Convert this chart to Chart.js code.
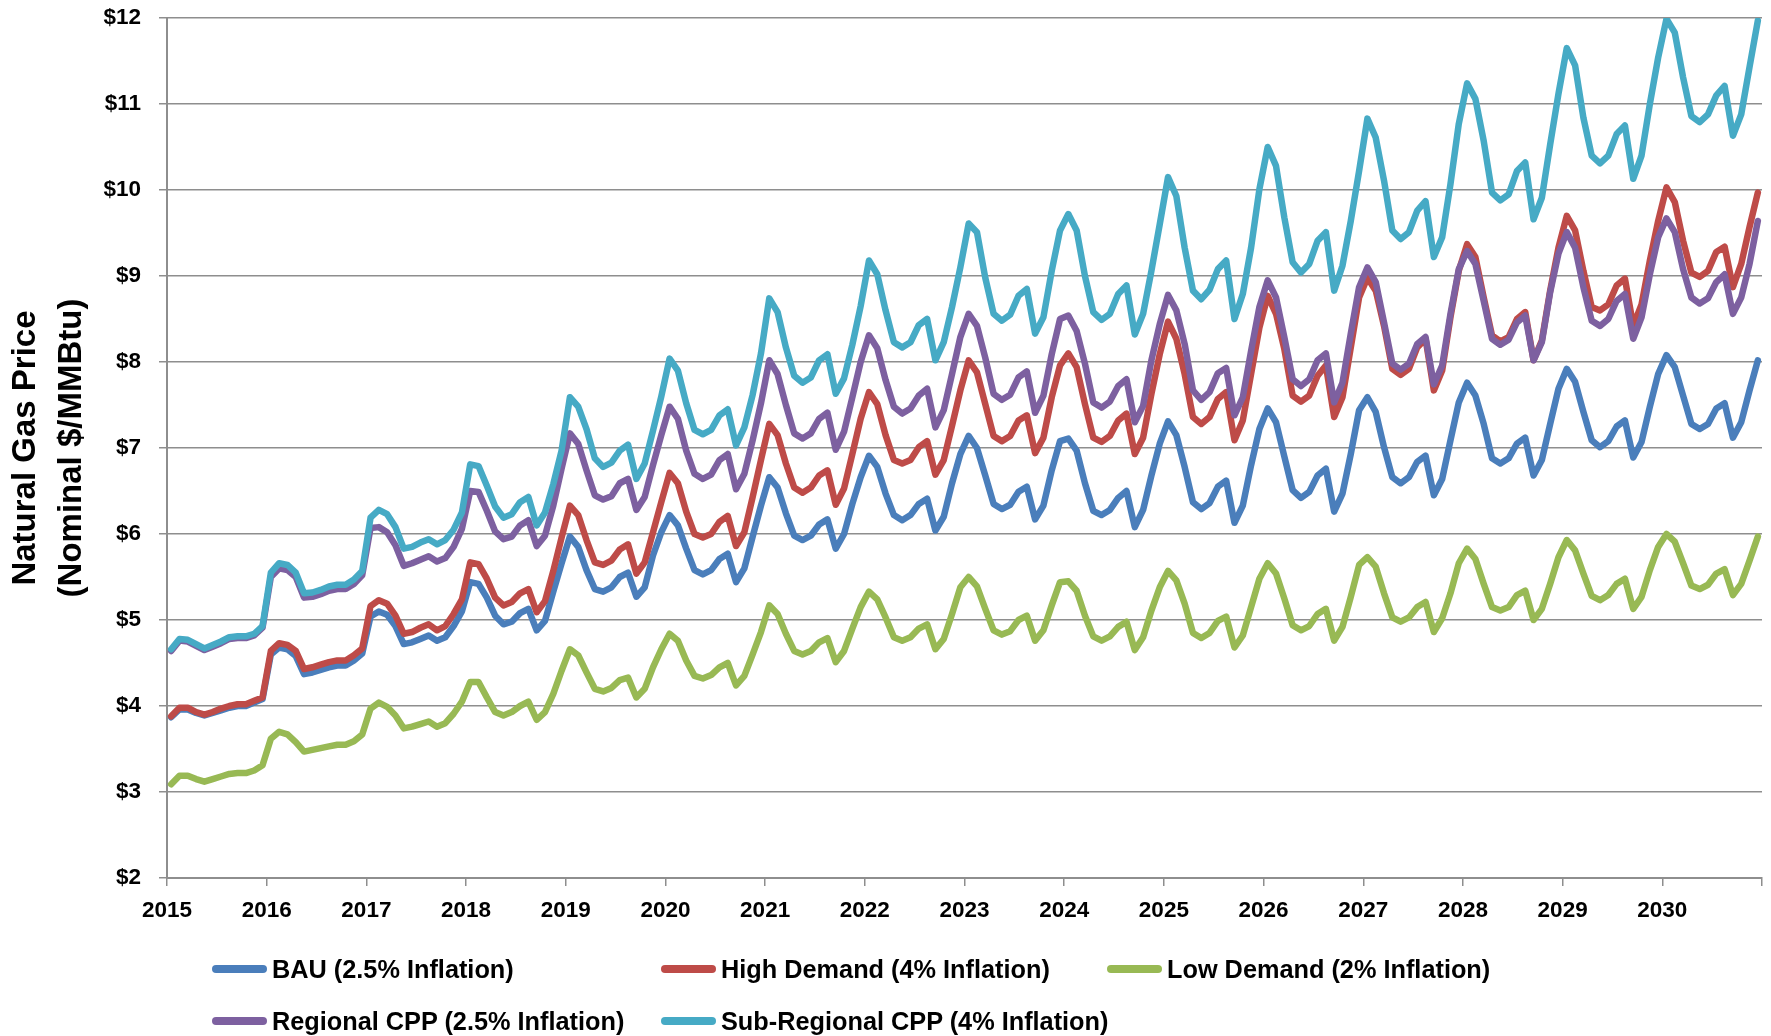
<!DOCTYPE html>
<html>
<head>
<meta charset="utf-8">
<title>Natural Gas Price Scenarios</title>
<script src="https://cdn.jsdelivr.net/npm/chart.js@4.4.1/dist/chart.umd.min.js"></script>
<style>
  html, body { margin: 0; padding: 0; background: #ffffff; }
  #wrap { position: relative; width: 1771px; height: 1036px; overflow: hidden; }
  #chart { position: absolute; left: 0; top: 0; }
  .legend-item { position: absolute; height: 30px; display: flex; align-items: center;
    font-family: 'Liberation Sans', Arial, sans-serif; font-weight: bold; font-size: 25.3px;
    color: #000; white-space: nowrap; }
  .legend-swatch { width: 55px; height: 8px; border-radius: 4px; margin-right: 5px; }
</style>
</head>
<body>
<div id="wrap">
  <canvas id="chart" width="1771" height="1036"></canvas>
  <div id="legend"></div>
</div>
<script>
// Monthly nominal prices, Jan 2015 – Dec 2030 ($/MMBtu), one row per year
const startYear = 2015;

const bauValues = [
  3.87,3.96,3.96,3.92,3.89,3.92,3.95,3.98,4.00,4.00,4.04,4.08,
  4.60,4.68,4.66,4.58,4.37,4.39,4.42,4.45,4.47,4.47,4.53,4.61,
  5.04,5.10,5.06,4.93,4.72,4.74,4.78,4.82,4.76,4.80,4.93,5.10,
  5.44,5.42,5.26,5.05,4.95,4.98,5.08,5.13,4.88,4.99,5.33,5.66,
  5.97,5.85,5.58,5.36,5.33,5.38,5.50,5.55,5.27,5.38,5.75,6.02,
  6.22,6.10,5.83,5.58,5.53,5.58,5.71,5.77,5.44,5.60,5.97,6.33,
  6.66,6.54,6.24,5.98,5.93,5.98,6.11,6.17,5.83,6.00,6.35,6.66,
  6.91,6.78,6.47,6.22,6.16,6.22,6.35,6.41,6.04,6.20,6.59,6.93,
  7.14,7.00,6.68,6.35,6.29,6.34,6.49,6.55,6.17,6.33,6.74,7.08,
  7.11,6.97,6.59,6.27,6.22,6.28,6.42,6.50,6.08,6.28,6.68,7.05,
  7.31,7.15,6.78,6.37,6.29,6.36,6.55,6.62,6.13,6.33,6.80,7.22,
  7.46,7.30,6.90,6.51,6.42,6.49,6.68,6.76,6.26,6.47,6.93,7.44,
  7.59,7.42,7.01,6.66,6.59,6.66,6.84,6.91,6.45,6.64,7.09,7.53,
  7.76,7.61,7.28,6.88,6.82,6.88,7.05,7.12,6.68,6.86,7.28,7.69,
  7.92,7.77,7.42,7.09,7.01,7.08,7.25,7.32,6.89,7.07,7.48,7.86,
  8.08,7.94,7.61,7.28,7.22,7.28,7.46,7.52,7.12,7.30,7.67,8.02
];

const highDemandValues = [
  3.88,3.98,3.98,3.93,3.90,3.93,3.97,4.00,4.02,4.02,4.06,4.10,
  4.64,4.73,4.71,4.64,4.43,4.45,4.48,4.51,4.53,4.53,4.59,4.67,
  5.16,5.23,5.19,5.05,4.84,4.86,4.91,4.95,4.88,4.93,5.07,5.24,
  5.67,5.65,5.48,5.26,5.17,5.21,5.31,5.36,5.09,5.22,5.57,5.96,
  6.33,6.22,5.93,5.67,5.64,5.69,5.82,5.88,5.54,5.67,6.02,6.37,
  6.71,6.59,6.26,6.00,5.96,6.00,6.14,6.21,5.86,6.02,6.43,6.86,
  7.28,7.15,6.82,6.54,6.48,6.54,6.68,6.74,6.34,6.53,6.93,7.34,
  7.65,7.51,7.15,6.86,6.82,6.86,7.01,7.08,6.69,6.86,7.26,7.67,
  8.02,7.88,7.51,7.14,7.08,7.14,7.32,7.38,6.94,7.12,7.59,7.96,
  8.10,7.94,7.51,7.12,7.07,7.14,7.32,7.40,6.93,7.12,7.63,8.09,
  8.47,8.27,7.86,7.36,7.28,7.36,7.57,7.65,7.09,7.32,7.86,8.40,
  8.77,8.56,8.15,7.61,7.54,7.61,7.84,7.96,7.36,7.59,8.17,8.75,
  8.98,8.83,8.42,7.92,7.85,7.92,8.17,8.27,7.67,7.90,8.52,9.06,
  9.37,9.22,8.75,8.31,8.24,8.29,8.50,8.58,8.02,8.25,8.83,9.33,
  9.70,9.53,9.06,8.64,8.60,8.67,8.89,8.97,8.42,8.67,9.18,9.64,
  10.03,9.86,9.41,9.04,8.99,9.06,9.28,9.34,8.87,9.14,9.57,9.97
];

const lowDemandValues = [
  3.09,3.19,3.19,3.15,3.12,3.15,3.18,3.21,3.22,3.22,3.25,3.31,
  3.62,3.70,3.67,3.58,3.47,3.49,3.51,3.53,3.55,3.55,3.59,3.67,
  3.97,4.04,3.99,3.89,3.74,3.76,3.79,3.82,3.76,3.80,3.91,4.05,
  4.28,4.28,4.10,3.93,3.89,3.93,4.00,4.05,3.84,3.93,4.14,4.41,
  4.66,4.59,4.39,4.20,4.17,4.21,4.30,4.33,4.10,4.20,4.45,4.66,
  4.84,4.76,4.53,4.35,4.32,4.36,4.45,4.50,4.24,4.35,4.60,4.86,
  5.17,5.07,4.84,4.64,4.60,4.64,4.74,4.79,4.51,4.64,4.90,5.15,
  5.33,5.24,5.03,4.80,4.76,4.80,4.90,4.95,4.66,4.78,5.07,5.38,
  5.50,5.39,5.13,4.88,4.83,4.87,5.00,5.05,4.76,4.88,5.17,5.44,
  5.45,5.34,5.05,4.81,4.76,4.81,4.92,4.98,4.65,4.80,5.11,5.38,
  5.57,5.46,5.19,4.85,4.79,4.85,4.99,5.04,4.68,4.82,5.15,5.48,
  5.66,5.54,5.25,4.94,4.88,4.93,5.07,5.13,4.76,4.92,5.27,5.64,
  5.73,5.62,5.31,5.03,4.98,5.03,5.15,5.21,4.86,5.02,5.31,5.66,
  5.83,5.71,5.42,5.15,5.11,5.15,5.29,5.34,5.00,5.13,5.42,5.73,
  5.93,5.81,5.54,5.28,5.23,5.29,5.42,5.48,5.13,5.27,5.58,5.85,
  6.00,5.91,5.66,5.40,5.36,5.41,5.54,5.59,5.29,5.42,5.69,5.97
];

const regionalCppValues = [
  4.64,4.76,4.75,4.70,4.65,4.69,4.73,4.78,4.79,4.79,4.82,4.91,
  5.50,5.60,5.58,5.50,5.26,5.27,5.30,5.34,5.36,5.36,5.42,5.52,
  6.07,6.08,6.02,5.87,5.63,5.66,5.70,5.74,5.68,5.72,5.85,6.06,
  6.50,6.49,6.27,6.03,5.94,5.97,6.10,6.16,5.86,5.98,6.33,6.76,
  7.17,7.05,6.74,6.45,6.40,6.44,6.59,6.64,6.28,6.43,6.80,7.15,
  7.48,7.34,6.97,6.70,6.64,6.69,6.86,6.93,6.52,6.70,7.09,7.52,
  8.02,7.86,7.50,7.17,7.11,7.17,7.34,7.41,6.98,7.19,7.59,8.00,
  8.31,8.16,7.79,7.48,7.40,7.46,7.61,7.69,7.24,7.44,7.86,8.29,
  8.56,8.42,8.05,7.63,7.56,7.62,7.82,7.89,7.41,7.61,8.09,8.50,
  8.54,8.36,7.98,7.53,7.47,7.54,7.72,7.80,7.30,7.49,8.02,8.44,
  8.78,8.60,8.21,7.67,7.56,7.65,7.87,7.93,7.38,7.59,8.13,8.64,
  8.95,8.75,8.29,7.80,7.72,7.80,8.02,8.10,7.53,7.76,8.33,8.87,
  9.10,8.93,8.46,7.98,7.91,7.98,8.21,8.29,7.74,7.96,8.56,9.08,
  9.29,9.14,8.71,8.27,8.20,8.26,8.46,8.54,8.02,8.23,8.81,9.26,
  9.51,9.33,8.87,8.48,8.42,8.50,8.71,8.79,8.27,8.52,9.02,9.45,
  9.67,9.51,9.08,8.75,8.68,8.74,8.93,9.02,8.56,8.75,9.14,9.64
];

const subRegionalCppValues = [
  4.66,4.78,4.77,4.72,4.67,4.71,4.75,4.80,4.81,4.81,4.84,4.93,
  5.55,5.66,5.64,5.55,5.31,5.32,5.35,5.39,5.41,5.41,5.47,5.57,
  6.19,6.28,6.23,6.08,5.83,5.85,5.90,5.94,5.88,5.93,6.05,6.25,
  6.81,6.79,6.56,6.32,6.19,6.23,6.37,6.43,6.10,6.25,6.58,6.97,
  7.59,7.48,7.22,6.88,6.78,6.83,6.97,7.04,6.64,6.82,7.20,7.60,
  8.04,7.90,7.52,7.21,7.16,7.21,7.38,7.45,7.03,7.24,7.62,8.10,
  8.74,8.58,8.17,7.84,7.76,7.82,8.02,8.09,7.63,7.81,8.20,8.65,
  9.18,9.02,8.60,8.23,8.17,8.23,8.43,8.50,8.02,8.23,8.64,9.10,
  9.61,9.51,8.98,8.56,8.48,8.55,8.77,8.85,8.33,8.52,9.06,9.53,
  9.72,9.53,9.00,8.58,8.49,8.56,8.79,8.89,8.32,8.56,9.06,9.60,
  10.15,9.93,9.33,8.83,8.73,8.84,9.08,9.18,8.50,8.79,9.33,10.01,
  10.50,10.28,9.68,9.16,9.04,9.14,9.41,9.51,8.83,9.12,9.64,10.22,
  10.83,10.61,10.11,9.53,9.43,9.51,9.76,9.87,9.22,9.45,10.07,10.77,
  11.24,11.06,10.57,9.97,9.88,9.95,10.22,10.32,9.66,9.91,10.53,11.12,
  11.65,11.45,10.84,10.40,10.31,10.40,10.65,10.75,10.13,10.40,11.00,11.54,
  11.99,11.83,11.31,10.86,10.79,10.88,11.10,11.21,10.63,10.88,11.43,11.97
];

const seriesLabels = [
  'BAU (2.5% Inflation)',
  'High Demand (4% Inflation)',
  'Low Demand (2% Inflation)',
  'Regional CPP (2.5% Inflation)',
  'Sub-Regional CPP (4% Inflation)'
];
const seriesColors = ['#4A7EBB', '#BE4B48', '#98B954', '#7D60A0', '#46AAC5'];
const seriesValues = [bauValues, highDemandValues, lowDemandValues, regionalCppValues, subRegionalCppValues];

const yAxisTitle = ['Natural Gas Price', '(Nominal $/MMBtu)'];

// Each month sits in the middle of its slot on a month-index axis (Jan 2015 = slot 0)
function toPoints(values) {
  return values.map((v, i) => ({ x: i + 0.5, y: v }));
}

const monthCount = bauValues.length;
const gridColor = '#8e8e8e';
const tickFont = { family: "'Liberation Sans', Arial, sans-serif", weight: 'bold', size: 22.5 };

const datasets = seriesValues.map((values, idx) => ({
  label: seriesLabels[idx],
  data: toPoints(values),
  borderColor: seriesColors[idx],
  backgroundColor: seriesColors[idx],
  borderWidth: 6.5,
  pointRadius: 0,
  pointHoverRadius: 0,
  tension: 0,
  fill: false,
  borderJoinStyle: 'round',
  borderCapStyle: 'round',
  // later series are painted over earlier ones
  order: seriesValues.length - idx
}));

new Chart(document.getElementById('chart'), {
  type: 'line',
  data: { datasets },
  options: {
    responsive: false,
    devicePixelRatio: 1,
    animation: false,
    events: [],
    layout: { padding: { top: 18, right: 9, bottom: 0, left: 0 } },
    plugins: {
      legend: { display: false },
      title: { display: false },
      tooltip: { enabled: false }
    },
    scales: {
      x: {
        type: 'linear',
        min: 0,
        max: monthCount,
        afterFit(scale) {
          scale.height = 158;
          scale.paddingLeft = 0;
          scale.paddingRight = 0;
        },
        afterBuildTicks(scale) {
          const ticks = [];
          for (let v = 0; v <= monthCount; v += 12) ticks.push({ value: v });
          scale.ticks = ticks;
        },
        ticks: {
          autoSkip: false,
          maxRotation: 0,
          minRotation: 0,
          padding: 11,
          color: '#000',
          font: tickFont,
          callback: (v) => (v < monthCount ? String(startYear + v / 12) : '')
        },
        grid: {
          drawOnChartArea: false,
          drawTicks: true,
          tickLength: 8,
          color: gridColor,
          lineWidth: 1.5
        },
        border: { display: true, color: gridColor, width: 2 }
      },
      y: {
        type: 'linear',
        min: 2,
        max: 12,
        afterFit(scale) {
          scale.width = 167;
          scale.paddingTop = 0;
          scale.paddingBottom = 0;
        },
        ticks: {
          stepSize: 1,
          padding: 18,
          color: '#000',
          font: tickFont,
          callback: (v) => '$' + v
        },
        grid: {
          drawTicks: true,
          tickLength: 8,
          color: gridColor,
          lineWidth: 1.5
        },
        border: { display: true, color: gridColor, width: 2 },
        title: {
          display: true,
          text: yAxisTitle,
          color: '#000',
          font: { family: "'Liberation Sans', Arial, sans-serif", weight: 'bold', size: 33, lineHeight: 1.39 },
          padding: { top: 3, bottom: 0 }
        }
      }
    }
  }
});

// Legend laid out as a three-column grid under the axis
const legendSlots = [
  { left: 212, top: 954 }, { left: 661, top: 954 }, { left: 1107, top: 954 },
  { left: 212, top: 1006 }, { left: 661, top: 1006 }
];
const legend = document.getElementById('legend');
seriesLabels.forEach((name, idx) => {
  const item = document.createElement('div');
  item.className = 'legend-item';
  item.style.left = legendSlots[idx].left + 'px';
  item.style.top = legendSlots[idx].top + 'px';
  const swatch = document.createElement('span');
  swatch.className = 'legend-swatch';
  swatch.style.background = seriesColors[idx];
  const text = document.createElement('span');
  text.textContent = name;
  item.appendChild(swatch);
  item.appendChild(text);
  legend.appendChild(item);
});
</script>
</body>
</html>
